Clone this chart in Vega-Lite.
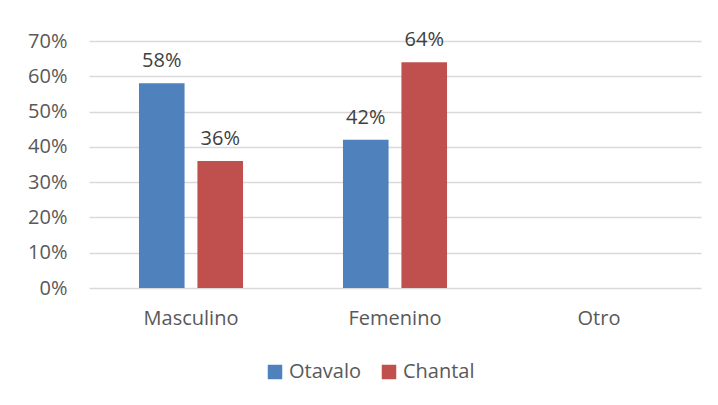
{
  "$schema": "https://vega.github.io/schema/vega-lite/v6.json",
  "width": 612,
  "height": 247,
  "padding": {"left": 89, "top": 41, "right": 17, "bottom": 117},
  "autosize": {"type": "none"},
  "background": "white",
  "config": {
    "view": {"stroke": null},
    "font": "Open Sans",
    "axis": {"labelColor": "#595959", "labelFontSize": 20, "labelFont": "Open Sans", "gridColor": "#d9d9d9", "gridWidth": 1.3, "domain": false, "ticks": false},
    "legend": {"labelColor": "#595959", "labelFontSize": 20, "labelFont": "Open Sans"}
  },
  "data": {
    "values": [
      {"sexo": "Masculino", "ciudad": "Otavalo", "valor": 0.58},
      {"sexo": "Masculino", "ciudad": "Chantal", "valor": 0.36},
      {"sexo": "Femenino", "ciudad": "Otavalo", "valor": 0.42},
      {"sexo": "Femenino", "ciudad": "Chantal", "valor": 0.64},
      {"sexo": "Otro", "ciudad": "Otavalo", "valor": null},
      {"sexo": "Otro", "ciudad": "Chantal", "valor": null}
    ]
  },
  "encoding": {
    "x": {"field": "sexo", "type": "nominal", "sort": ["Masculino", "Femenino", "Otro"], "title": null,
      "scale": {"paddingInner": 0.49, "paddingOuter": 0.245},
      "axis": {"labelAngle": 0, "labelPadding": 20, "grid": false}},
    "xOffset": {"field": "ciudad", "type": "nominal", "sort": ["Otavalo", "Chantal"], "scale": {"paddingInner": 0.22}},
    "y": {"field": "valor", "type": "quantitative", "title": null,
      "scale": {"domain": [0, 0.7], "nice": false},
      "axis": {"format": ".0%", "values": [0, 0.1, 0.2, 0.3, 0.4, 0.5, 0.6, 0.7], "labelPadding": 22}},
    "color": {"field": "ciudad", "type": "nominal", "sort": ["Otavalo", "Chantal"],
      "scale": {"domain": ["Otavalo", "Chantal"], "range": ["#4f81bd", "#c0504d"]},
      "legend": {"orient": "none", "legendX": 176, "legendY": 321, "direction": "horizontal", "title": null, "symbolType": "square", "symbolSize": 210, "symbolStrokeWidth": 0, "symbolOpacity": 1, "columnPadding": 18, "labelOffset": 4}}
  },
  "layer": [
    {"mark": {"type": "bar"}},
    {"mark": {"type": "text", "baseline": "bottom", "dy": -12, "fontSize": 20, "font": "Open Sans"},
      "encoding": {"text": {"field": "valor", "type": "quantitative", "format": ".0%"}, "color": {"value": "#404040"}}}
  ]
}
